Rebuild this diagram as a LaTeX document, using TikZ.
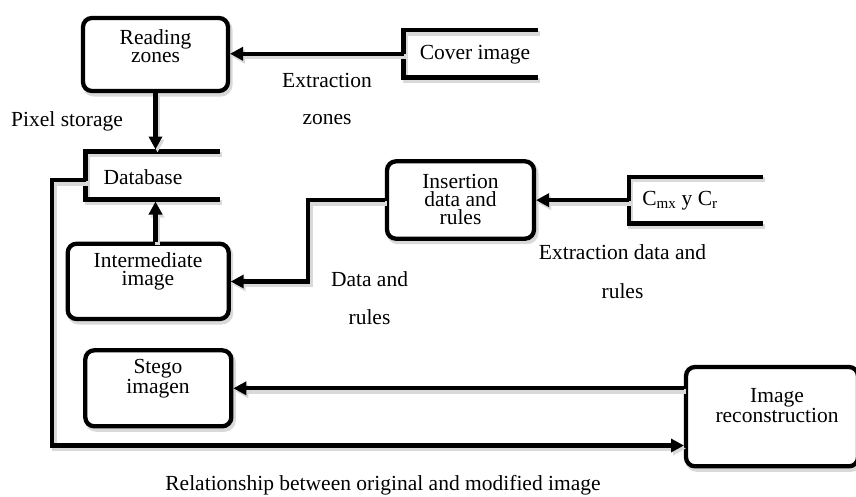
\documentclass[tikz,border=0pt]{standalone}
\usepackage{fontspec}
\setmainfont{Liberation Serif}
\usetikzlibrary{arrows.meta}
\begin{document}
\begin{tikzpicture}[x=1pt,y=-1pt,
  every node/.style={font=\fontsize{21.5}{18}\selectfont, inner sep=0pt, outer sep=0pt},
  shadowed/.style={preaction={draw=black!15, line width=5pt, transform canvas={shift={(2,3)}}}},
  box/.style={draw, line width=4.3pt, rounded corners=9pt, fill=white, shadowed, outer sep=2pt},
  storebox/.style={draw=none, inner sep=0pt, outer sep=0pt},
  storeline/.style={line width=4.3pt, shadowed},
  conn/.style={line width=4.3pt, -{Triangle[length=13pt,width=13pt]}, shadowed},
  txt/.style={align=center},
  lbl/.style={align=center}
]
\useasboundingbox (0,0) rectangle (856,496);
\fill[white] (0,0) rectangle (856,496);
\clip (0,0) rectangle (856,496);

% boxes
\node[box, minimum width=145pt, minimum height=73pt] (read) at (155.5,54.5) {};
\node[box, minimum width=147pt, minimum height=77.4pt] (ins) at (460.5,200) {};
\node[box, minimum width=161pt, minimum height=75.3pt] (inter) at (148.2,281.35) {};
\node[box, minimum width=146pt, minimum height=76pt] (stego) at (158.3,388.3) {};
\node[box, minimum width=172pt, minimum height=99.3pt] (img) at (772,416.65) {};

% stores
\node[storebox, minimum width=134.5pt, minimum height=47.5pt] (cov) at (470.75,53.75) {};
\node[storebox, minimum width=134.5pt, minimum height=48pt] (db) at (152.75,175.5) {};
\node[storebox, minimum width=134pt, minimum height=46.7pt] (cmx) at (695.7,200.15) {};
\draw[storeline] (cov.north east) -- (cov.north west) -- (cov.south west) -- (cov.south east);
\draw[storeline] (db.north east) -- (db.north west) -- (db.south west) -- (db.south east);
\draw[storeline] (cmx.north east) -- (cmx.north west) -- (cmx.south west) -- (cmx.south east);

% texts in boxes
\node[txt] (readT) at (155.5,46) {Reading\\zones};
\node[txt] (insT) at (460.5,199) {Insertion\\data and\\rules};
\node[txt] (interT) at (148,271.5) {Intermediate\\image};
\node[txt] (stegoT) at (158,379) {Stego\\imagen};
\node[txt] (imgT) at (777,405.5) {Image\\reconstruction};
\node[txt] (covT) at (475,55) {Cover image};
\node[txt] (dbT) at (143,177) {Database};
\node[txt] (cmxT) at (680,201) {C\textsubscript{mx} y C\textsubscript{r}};

% connectors
\draw[conn] (cov.west) -- (cov.west -| read.east);
\draw[conn, shorten >=2pt] (read.south) -- (read.south |- db.north);
\draw[conn, shorten >=2pt] (inter.north -| read.south) -- (read.south |- db.south);
\coordinate (k1) at (308,281.5);
\draw[conn] (ins.west) -| (k1) -- (k1 -| inter.east);
\draw[conn] (cmx.west) -- (cmx.west -| ins.east);
\draw[conn] (stego.east -| img.west) -- (stego.east);
\coordinate (fb) at (52,445.5);
\draw[conn] ([yshift=-4.5pt]db.west) -| (fb) -- (fb -| img.west);

% labels
\node[lbl] (l1) at (67,121) {Pixel storage};
\node[lbl] (l2) at (327,98.5) {Extraction\\[19pt]zones};
\node[lbl] (l3) at (369.5,298) {Data and\\[20pt]rules};
\node[lbl] (l4) at (622.5,271.5) {Extraction data and\\[21pt]rules};
\node[lbl] (l5) at (383,485) {Relationship between original and modified image};
\end{tikzpicture}
\end{document}
